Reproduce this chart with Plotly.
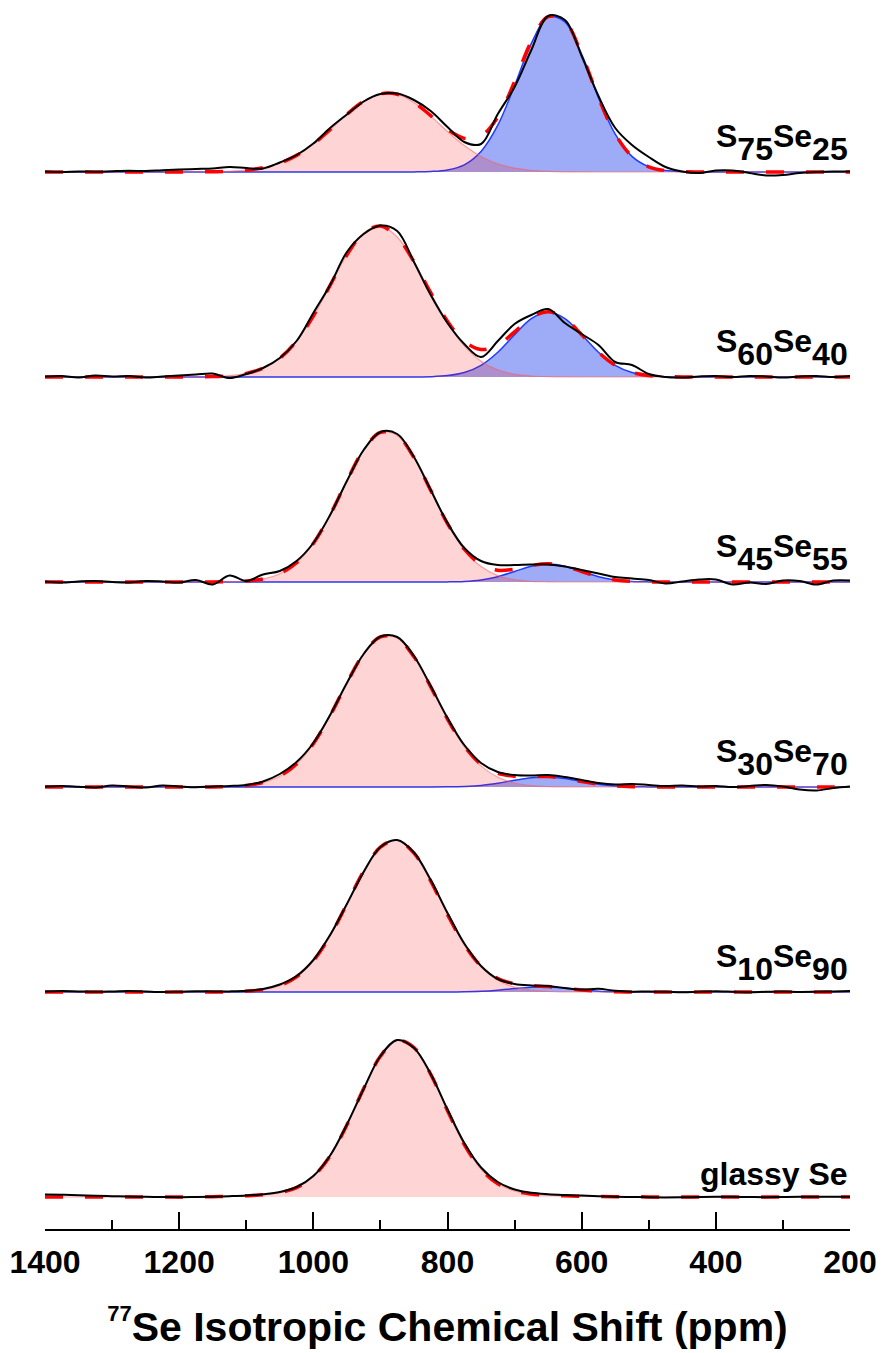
import plotly.graph_objects as go

# ---------------- data (heights in arbitrary intensity units) ----------------
PPM = list(range(1400, 199, -25))  # 1400, 1375, ..., 200

LABELS = ["glassy Se", "S<sub>10</sub>Se<sub>90</sub>", "S<sub>30</sub>Se<sub>70</sub>",
          "S<sub>45</sub>Se<sub>55</sub>", "S<sub>60</sub>Se<sub>40</sub>", "S<sub>75</sub>Se<sub>25</sub>"]
OFFSETS = [32, 237, 442, 647, 852, 1057]

TICK_VALS = [1400, 1200, 1000, 800, 600, 400, 200]
MINOR_VALS = [1300, 1100, 900, 700, 500, 300]

# glassy Se
glassy_exp = [2.5, 2.2, 1.8, 1.2, 0.8, 0.4, 0.2, 0.0, -0.2, 0.0,
              0.3, 0.8, 1.5, 2.8, 5.0, 10.0, 21.0, 41.5, 72.5, 108.0,
              141.0, 157.0, 149.0, 123.0, 87.5, 54.0, 29.5, 15.0, 7.5, 4.2,
              2.8, 2.0, 1.4, 0.8, 0.3, 0.0, -0.3, -0.4, -0.3, 0.0,
              0.2, 0.2, 0.0, -0.2, 0.0, 0.2, 0.3, 0.2, 0.3]
glassy_red = [0, 0, 0, 0, 0, 0, 0, 0, 0, 0,
              0.3, 0.6, 1.2, 2.2, 4.3, 9.4, 20.5, 41.0, 72.0, 108.5,
              140.7, 156.5, 149.5, 122.7, 86.3, 52.5, 27.8, 13.2, 6.0, 3.0,
              1.8, 1.2, 0.8, 0.5, 0.3, 0.2, 0.1, 0, 0, 0,
              0, 0, 0, 0, 0, 0, 0, 0, 0]

# S10Se90
s10_exp = [0.5, 1.0, 0.6, 0.2, 0.5, 1.0, 0.5, 0.0, 0.3, 0.8,
           0.5, 0.6, 1.2, 3.0, 7.5, 16.0, 32.0, 57.0, 88.0, 120.0,
           145.0, 152.0, 139.5, 112.0, 79.0, 48.5, 26.0, 13.0, 8.0, 6.5,
           6.0, 4.0, 2.5, 3.2, 1.2, 0.3, 0.5, 0.2, -0.3, 0.3,
           0.8, 0.3, -0.3, 0.2, 0.5, 0.0, 0.2, 0.6, 1.0]
s10_red = [0, 0, 0, 0, 0, 0, 0, 0, 0, 0,
           0, 0.2, 0.8, 2.4, 6.4, 15.2, 31.2, 56.1, 88.1, 120.9,
           144.9, 151.7, 138.8, 110.9, 77.4, 47.2, 25.1, 11.7, 4.8, 1.7,
           0.5, 0.1, 0, 0, 0, 0, 0, 0, 0, 0,
           0, 0, 0, 0, 0, 0, 0, 0, 0]
s10_blue = [0, 0, 0, 0, 0, 0, 0, 0, 0, 0,
            0, 0, 0, 0, 0, 0, 0, 0, 0, 0,
            0, 0, 0, 0, 0, 0.2, 0.7, 1.8, 3.4, 4.7,
            4.9, 3.7, 2.1, 0.8, 0.25, 0.05, 0, 0, 0, 0,
            0, 0, 0, 0, 0, 0, 0, 0, 0]

# S30Se70
s30_exp = [0.5, 1.0, 0.3, -0.5, 1.5, 0.5, -0.5, 1.5, 0.5, -0.3,
           0.5, 1.0, 2.0, 5.5, 13.0, 25.0, 44.0, 72.0, 104.0, 133.0,
           150.5, 150.0, 131.0, 101.0, 69.0, 42.0, 24.0, 15.0, 12.0, 11.5,
           12.0, 10.0, 7.0, 4.0, 2.5, 3.0, 2.0, 1.0, 1.5, 0.5,
           1.0, 0.0, 1.0, 2.0, 0.5, -2.5, -3.5, -1.0, 0.5]
s30_red = [0, 0, 0, 0, 0, 0, 0, 0, 0, 0,
           0.1, 0.5, 1.6, 4.5, 10.8, 23.0, 43.2, 71.4, 104.0, 133.2,
           150.2, 149.0, 130.2, 100.1, 67.8, 40.4, 21.1, 9.8, 4.0, 1.4,
           0.4, 0.1, 0, 0, 0, 0, 0, 0, 0, 0,
           0, 0, 0, 0, 0, 0, 0, 0, 0]
s30_blue = [0, 0, 0, 0, 0, 0, 0, 0, 0, 0,
            0, 0, 0, 0, 0, 0, 0, 0, 0, 0,
            0, 0, 0, 0, 0.15, 0.6, 1.6, 3.8, 6.7, 9.2,
            10.0, 8.4, 5.5, 2.8, 1.1, 0.3, 0.1, 0, 0, 0,
            0, 0, 0, 0, 0, 0, 0, 0, 0]

# S45Se55
s45_exp = [0.5, -0.5, 0.5, 1.0, 0.0, -0.5, 1.0, 0.5, -0.5, 2.0,
           -2.5, 6.5, 1.0, 7.5, 11.0, 21.0, 39.0, 67.0, 101.0, 132.0,
           150.0, 148.0, 125.0, 92.0, 59.0, 34.0, 21.0, 17.0, 17.0, 17.5,
           17.5, 15.5, 12.0, 8.5, 5.0, 3.5, 2.0, -1.5, 0.5, 2.5,
           2.5, -2.5, -0.5, -2.0, 1.5, 1.0, -2.5, 1.5, 1.5]
s45_red = [0, 0, 0, 0, 0, 0, 0, 0, 0, 0,
           0, 0.3, 1.0, 3.1, 8.3, 19.2, 38.6, 67.2, 101.2, 132.2,
           149.6, 146.6, 124.5, 91.6, 58.3, 32.2, 15.4, 6.4, 2.3, 0.7,
           0.2, 0, 0, 0, 0, 0, 0, 0, 0, 0,
           0, 0, 0, 0, 0, 0, 0, 0, 0]
s45_blue = [0, 0, 0, 0, 0, 0, 0, 0, 0, 0,
            0, 0, 0, 0, 0, 0, 0, 0, 0, 0,
            0, 0, 0, 0, 0.1, 0.6, 2.1, 5.3, 10.5, 15.7,
            18.0, 15.7, 10.5, 5.3, 2.1, 0.6, 0.1, 0, 0, 0,
            0, 0, 0, 0, 0, 0, 0, 0, 0]

# S60Se40
s60_exp = [0.5, 1.0, -0.5, 1.5, 0.5, 1.0, -0.5, 0.5, 1.5, 2.5,
           3.5, -1.0, 3.0, 9.0, 19.0, 36.0, 64.0, 92.0, 125.0, 143.0,
           151.5, 146.0, 115.0, 82.0, 54.0, 33.0, 20.0, 36.0, 53.0, 62.0,
           68.0, 54.0, 43.0, 32.0, 15.0, 12.0, 3.0, 0.0, -0.5, 0.5,
           1.0, 0.0, 1.0, 0.5, -0.5, 0.5, 1.0, 0.0, 1.0]
s60_red = [0, 0, 0, 0, 0, 0, 0, 0, 0, 0.1,
           0.4, 1.3, 3.6, 8.7, 18.8, 36.0, 61.0, 91.6, 122.0, 144.1,
           150.9, 140.0, 115.2, 84.0, 54.3, 31.1, 15.8, 7.1, 2.8, 1.0,
           0.3, 0.1, 0, 0, 0, 0, 0, 0, 0, 0,
           0, 0, 0, 0, 0, 0, 0, 0, 0]
s60_blue = [0, 0, 0, 0, 0, 0, 0, 0, 0, 0,
            0, 0, 0, 0, 0, 0, 0, 0, 0, 0,
            0, 0, 0.1, 0.3, 1.4, 4.5, 11.7, 24.8, 42.3, 58.4,
            65.0, 58.4, 42.3, 24.8, 11.7, 4.5, 1.4, 0.3, 0.1, 0,
            0, 0, 0, 0, 0, 0, 0, 0, 0]

# S75Se25
s75_exp = [0.5, 0.0, 0.5, 0.3, 0.8, 1.2, 1.0, 1.8, 2.5, 3.0,
           3.5, 5.0, 4.0, 3.5, 9.5, 17.0, 28.5, 44.0, 57.5, 70.5,
           78.0, 78.5, 72.0, 61.0, 45.0, 30.0, 28.0, 58.0, 85.0, 122.0,
           156.0, 152.0, 116.0, 76.0, 44.0, 27.0, 15.0, 5.0, 0.5, -1.0,
           1.5, 1.5, -1.0, -3.5, -3.0, -1.0, 0.0, 0.5, 0.5]
s75_red = [0, 0, 0, 0, 0, 0, 0, 0, 0, 0.1,
           0.3, 0.7, 1.8, 4.3, 8.9, 16.6, 27.9, 42.3, 57.7, 70.8,
           78.2, 77.7, 69.5, 55.9, 40.5, 26.4, 15.5, 8.2, 3.9, 1.7,
           0.6, 0.2, 0.1, 0, 0, 0, 0, 0, 0, 0,
           0, 0, 0, 0, 0, 0, 0, 0, 0]
s75_blue = [0, 0, 0, 0, 0, 0, 0, 0, 0, 0,
            0, 0, 0, 0, 0, 0, 0, 0, 0, 0,
            0, 0, 0.1, 0.5, 2.1, 7.2, 20.5, 46.8, 86.4, 128.7,
            154.8, 150.2, 117.7, 74.4, 37.9, 15.6, 5.2, 1.4, 0.3, 0.1,
            0, 0, 0, 0, 0, 0, 0, 0, 0]

EXP = [glassy_exp, s10_exp, s30_exp, s45_exp, s60_exp, s75_exp]
RED = [glassy_red, s10_red, s30_red, s45_red, s60_red, s75_red]
BLUE = [None, s10_blue, s30_blue, s45_blue, s60_blue, s75_blue]

# ---------------- styles ----------------
FONT = "Liberation Sans, Arial, Helvetica, sans-serif"
RED_FILL = "rgba(255, 0, 0, 0.17)"
RED_LINE = "rgba(255, 90, 90, 0.55)"
BLUE_FILL = "rgba(40, 70, 240, 0.45)"
BLUE_LINE = "rgb(30, 60, 255)"
SPL = dict(shape="spline", smoothing=1.0)

fig = go.Figure()


def add_component(off, vals, line_color, fill_color, width):
    fig.add_trace(go.Scatter(x=PPM, y=[off] * len(PPM), mode="lines",
                             line=dict(width=0, color="rgba(0,0,0,0)"),
                             hoverinfo="skip", showlegend=False))
    fig.add_trace(go.Scatter(x=PPM, y=[off + v for v in vals], mode="lines",
                             line=dict(color=line_color, width=width, **SPL),
                             fill="tonexty", fillcolor=fill_color,
                             hoverinfo="skip", showlegend=False))


for off, exp, red, blue in zip(OFFSETS, EXP, RED, BLUE):
    if blue is not None:
        add_component(off, blue, BLUE_LINE, BLUE_FILL, 1.5)
    add_component(off, red, RED_LINE, RED_FILL, 1.2)
    fit = [r + (blue[i] if blue is not None else 0) for i, r in enumerate(red)]
    fig.add_trace(go.Scatter(x=PPM, y=[off + v for v in fit], mode="lines",
                             line=dict(color="rgb(255,0,0)", width=3.5, dash="18px,22px", **SPL),
                             hoverinfo="skip", showlegend=False))
    fig.add_trace(go.Scatter(x=PPM, y=[off + v for v in exp], mode="lines",
                             line=dict(color="black", width=2, **SPL),
                             hoverinfo="skip", showlegend=False))


def fmt_label(t):
    # subscripts kept nearly full size and shifted well below the baseline
    return t.replace("<sub>", '<span style="font-size:62px"><sub><span style="font-size:32px">') \
            .replace("</sub>", "</span></sub></span>")


for off, lab in zip(OFFSETS, LABELS):
    fig.add_annotation(x=200, xref="x", xanchor="right", y=off + 3, yref="y", yanchor="bottom",
                       text=fmt_label(lab), showarrow=False,
                       font=dict(family=FONT, size=32, color="black", weight="bold"))

title_text = ('<span style="font-size:48px"><sup><span style="font-size:22px">77</span></sup></span>'
              'Se Isotropic Chemical Shift (ppm)')

fig.update_layout(
    width=882, height=1353,
    margin=dict(l=45, r=32, t=5, b=124),
    paper_bgcolor="white", plot_bgcolor="white",
    showlegend=False,
    font=dict(family=FONT, color="black"),
)
fig.update_xaxes(
    range=[1400, 200], tickmode="array", tickvals=TICK_VALS,
    ticktext=[str(v) for v in TICK_VALS],
    ticks="inside", ticklen=17, tickwidth=2, tickcolor="black",
    showline=True, linewidth=2, linecolor="black", mirror=False,
    showgrid=False, zeroline=False, ticklabelstandoff=4,
    tickfont=dict(family=FONT, size=32, color="black", weight="bold"),
    minor=dict(tickmode="array", tickvals=MINOR_VALS, ticks="inside", ticklen=9,
               tickwidth=2, tickcolor="black", showgrid=False),
    title=dict(text=title_text, font=dict(family=FONT, size=41, color="black", weight="bold"),
               standoff=33),
)
fig.update_yaxes(range=[0, 1224], visible=False, fixedrange=True)

fig.write_html("out.html")
